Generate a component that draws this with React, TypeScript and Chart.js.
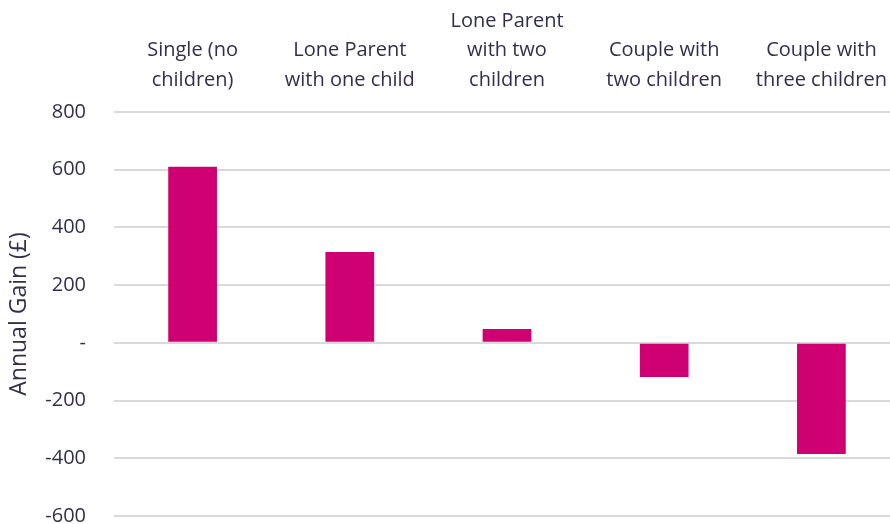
import React, { useEffect, useRef } from "react";
import { Chart, registerables } from "chart.js";

Chart.register(...registerables);

const categories: string[][] = [
  ["Single (no", "children)"],
  ["Lone Parent", "with one child"],
  ["Lone Parent", "with two", "children"],
  ["Couple with", "two children"],
  ["Couple with", "three children"],
];
const annualGain: number[] = [610, 315, 48, -118, -385];
const yMin = -600;
const yMax = 800;
const yStep = 200;
const yTitle = "Annual Gain (£)";

const textColor = "#30304e";
const fontFamily = "'Open Sans', sans-serif";

export default function App() {
  const ref = useRef<HTMLCanvasElement | null>(null);
  useEffect(() => {
    document.body.style.margin = "0";
    document.body.style.overflow = "hidden";
    if (!ref.current) return;
    const chart = new Chart(ref.current, {
      type: "bar",
      data: {
        labels: categories,
        datasets: [
          {
            data: annualGain,
            backgroundColor: "#cf0072",
            borderWidth: 0,
            barPercentage: 0.31,
            categoryPercentage: 1,
          },
        ],
      },
      options: {
        animation: false,
        responsive: false,
        maintainAspectRatio: false,
        layout: { padding: { left: 0, right: 0, top: 0, bottom: 0 } },
        plugins: { legend: { display: false }, tooltip: { enabled: false } },
        scales: {
          x: {
            position: "top",
            grid: { display: false, drawTicks: false },
            border: { display: false },
            ticks: {
              color: textColor,
              font: { family: fontFamily, size: 20, weight: "normal", lineHeight: 1.475 },
              padding: 17,
              maxRotation: 0,
              autoSkip: false,
            },
            afterFit: (scale: any) => {
              scale.height = 112;
              scale.paddingLeft = 0;
              scale.paddingRight = 0;
            },
          },
          y: {
            min: yMin,
            max: yMax,
            grid: { color: "#d9d9d9", lineWidth: 2, drawTicks: false },
            border: { display: false },
            ticks: {
              stepSize: yStep,
              color: textColor,
              font: { family: fontFamily, size: 20, weight: "normal" },
              padding: 28,
              callback: (v: any) => (Number(v) === 0 ? "-" : String(v)),
            },
            title: {
              display: true,
              text: yTitle,
              color: textColor,
              font: { family: fontFamily, size: 23, weight: "normal", lineHeight: 1.2 },
              padding: { top: 6, bottom: 0 },
            },
            afterFit: (scale: any) => {
              scale.width = 114;
              scale.paddingTop = 0;
              scale.paddingBottom = 8;
            },
          },
        },
      },
    });
    return () => chart.destroy();
  }, []);
  return (
    <div style={{ width: 890, height: 524, overflow: "hidden" }}>
      <canvas ref={ref} width={900} height={524} style={{ display: "block" }} />
    </div>
  );
}
